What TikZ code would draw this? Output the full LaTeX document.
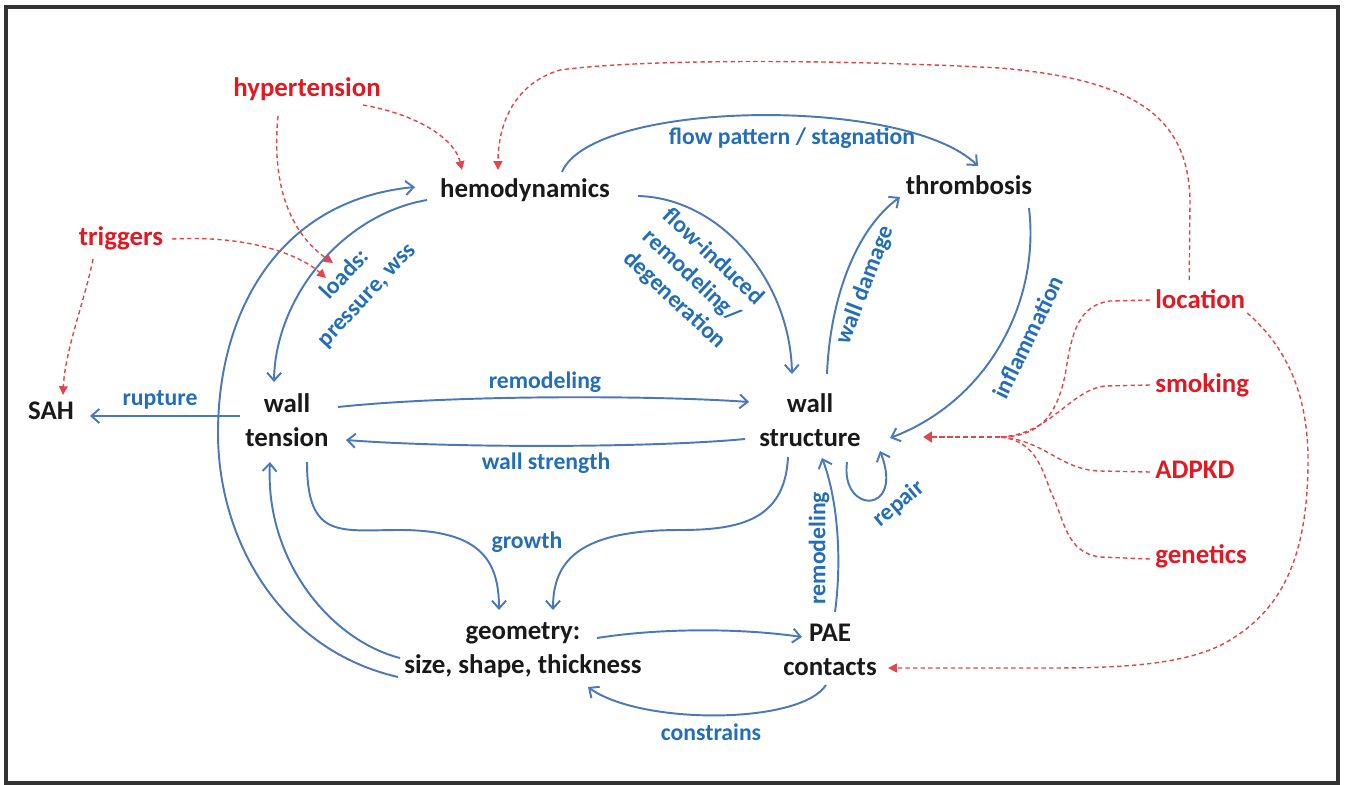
\documentclass[tikz,border=0pt]{standalone}
\usepackage{fontspec}
\setmainfont{Carlito}
\usetikzlibrary{arrows.meta}
\definecolor{bline}{RGB}{74,120,185}
\definecolor{btext}{RGB}{35,110,185}
\definecolor{rtext}{RGB}{225,25,35}
\definecolor{rline}{RGB}{225,70,75}
\definecolor{blk}{RGB}{25,25,25}
\definecolor{frame}{RGB}{50,50,50}
\begin{document}
\begin{tikzpicture}[x=0.02cm,y=-0.02cm,
  main/.style={font=\bfseries\fontsize{15.3}{19.3}\selectfont, text=blk, inner sep=0pt, align=center},
  risk/.style={font=\bfseries\fontsize{15.3}{19.3}\selectfont, text=rtext, inner sep=0pt},
  lbl/.style={font=\bfseries\fontsize{13.5}{17}\selectfont, text=btext, inner sep=0pt, align=center},
  link/.style={draw=bline, line width=1.1pt, -{Straight Barb[length=4.5pt,width=8pt]}},
  rlink/.style={draw=rline, line width=0.8pt, dash pattern=on 2.5pt off 1.8pt, -{Triangle[length=5pt,width=5pt]}},
  rpath/.style={draw=rline, line width=0.8pt, dash pattern=on 2.5pt off 1.8pt},
]
\useasboundingbox (0,0) rectangle (1347,785);
\draw[line width=1.8pt, draw=frame] (6,7) rectangle (1338,783);

% main nodes
\node[main] (hemo) at (525,190) {hemodynamics};
\node[main] (thromb) at (969,185) {thrombosis};
\node[main] (sah) at (51,411) {SAH};
\node[main] (wt) at (287,420) {wall\\tension};
\node[main] (ws) at (810,420) {wall\\structure};
\node[main] (geo) at (523,650) {geometry:\\size, shape, thickness};
\node[main] (pae) at (830,650) {PAE\\contacts};

% risk factors
\node[risk] (hyp) at (307,89) {hypertension};
\node[risk] (trig) at (121,238) {triggers};
\node[risk, anchor=west] (loc) at (1155,299) {location};
\node[risk, anchor=west] (smk) at (1155,385) {smoking};
\node[risk, anchor=west] (adpkd) at (1155,470) {ADPKD};
\node[risk, anchor=west] (gen) at (1155,556) {genetics};

% blue labels
\node[lbl] (lfps) at (792,138) {flow pattern / stagnation};
\node[lbl, rotate=47] (lloads) at (356,285) {loads:\\pressure, wss};
\node[lbl, rotate=-43, align=left, font=\bfseries\fontsize{13.5}{16.5}\selectfont] (lflow) at (694,279) {flow-induced\\remodeling/\\degeneration};
\node[lbl, rotate=69] (ldam) at (865,285) {wall damage};
\node[lbl, rotate=64] (linf) at (1028,337) {inflammation};
\node[lbl] (lrup) at (160,400) {rupture};
\node[lbl] (lrem) at (545,382) {remodeling};
\node[lbl] (lstr) at (546,463) {wall strength};
\node[lbl] (lgro) at (527,542) {growth};
\node[lbl, rotate=90] (lrem2) at (819,548) {remodeling};
\node[lbl, rotate=40] (lrep) at (899,504) {repair};
\node[lbl] (lcon) at (711,732) {constrains};

% blue connectors
\draw[link] ([shift={(37,-18)}]hemo.center) .. controls (592,100) and (905,95) .. ([shift={(9,-19)}]thromb.center);
\draw[link] ([shift={(113,6)}]hemo.center) .. controls (720,198) and (790,280) .. ([shift={(-18,-46)}]ws.center);
\draw[link] ([shift={(17,-46)}]ws.center) .. controls (830,300) and (855,230) .. ([shift={(-69,12)}]thromb.center);
\draw[link] ([shift={(60,23)}]thromb.center) .. controls (1040,300) and (990,400) .. ([shift={(80,18)}]ws.center);
\draw[link] ([shift={(51,-13)}]wt.center) .. controls (450,395) and (650,395) .. ([shift={(-61,-18)}]ws.center);
\draw[link] ([shift={(-65,19)}]ws.center) .. controls (650,448) and (450,448) .. ([shift={(59,20)}]wt.center);
\draw[link] ([shift={(-47,-4)}]wt.center) -- ([shift={(39,5)}]sah.center);
\draw[link] ([shift={(20,42)}]wt.center) .. controls (307,540) and (340,530) .. (400,530) .. controls (480,530) and (499,560) .. ([shift={(-24,-40)}]geo.center);
\draw[link] ([shift={(-22,37)}]ws.center) .. controls (785,520) and (740,530) .. (680,530) .. controls (580,530) and (553,560) .. ([shift={(30,-40)}]geo.center);
\draw[link] ([shift={(74,-12)}]geo.center) .. controls (660,628) and (740,628) .. ([shift={(-28,-13)}]pae.center);
\draw[link] ([shift={(-4,35)}]pae.center) .. controls (800,725) and (640,725) .. ([shift={(65,37)}]geo.center);
\draw[link] ([shift={(5,-38)}]pae.center) .. controls (842,560) and (838,500) .. ([shift={(12,38)}]ws.center);
\draw[link] ([shift={(37,42)}]ws.center) .. controls (840,515) and (905,515) .. ([shift={(70,31)}]ws.center);
\draw[link] ([shift={(-123,8)}]geo.center) .. controls (330,640) and (265,560) .. ([shift={(-17,42)}]wt.center);
\draw[link] ([shift={(-125,27)}]geo.center) .. controls (280,650) and (218,540) .. (218,433) .. controls (218,310) and (280,200) .. ([shift={(-110,-3)}]hemo.center);
\draw[link] ([shift={(-98,10)}]hemo.center) .. controls (340,215) and (275,300) .. ([shift={(-13,-38)}]wt.center);

% red dashed connectors
\coordinate (ld1) at (333,263);
\coordinate (ld2) at (326,278);
\coordinate (mrg) at (1000,437);
\draw[rlink] ([shift={(56,16)}]hyp.center) .. controls (420,115) and (455,140) .. ([shift={(-63,-20)}]hemo.center);
\draw[rlink] ([shift={(-29,27)}]hyp.center) .. controls (270,200) and (300,240) .. (ld1);
\draw[rlink] ([shift={(51,1)}]trig.center) .. controls (250,235) and (300,255) .. (ld2);
\draw[rlink] ([shift={(-28,21)}]trig.center) .. controls (85,300) and (65,350) .. ([shift={(12,-16)}]sah.center);
\draw[rlink] ([shift={(-11,-19)}]loc.center) -- (1190,200) .. controls (1188,120) and (1140,80) .. (1000,68) .. controls (850,60) and (650,58) .. (560,70) .. controls (510,85) and (498,130) .. ([shift={(-27,-20)}]hemo.center);
\draw[rlink] ([shift={(47,14)}]loc.center) .. controls (1290,350) and (1308,400) .. (1308,460) .. controls (1308,560) and (1280,610) .. (1230,640) .. controls (1190,665) and (1120,668) .. (1050,668) -- ([shift={(58,18)}]pae.center);
\draw[rpath] ([shift={(-5,1)}]loc.west) -- (1110,301) .. controls (1080,305) and (1072,330) .. (1066,370) .. controls (1058,415) and (1040,437) .. (mrg);
\draw[rpath] ([shift={(-5,0)}]smk.west) -- (1105,386) .. controls (1070,390) and (1050,435) .. (mrg);
\draw[rpath] ([shift={(-5,2)}]adpkd.west) -- (1100,471) .. controls (1060,470) and (1045,440) .. (mrg);
\draw[rpath] ([shift={(-5,3)}]gen.west) -- (1100,557) .. controls (1065,552) and (1065,520) .. (1050,490) .. controls (1040,460) and (1030,440) .. (mrg);
\draw[rline, line width=1.5pt, dash pattern=on 3pt off 1.5pt, -{Triangle[length=5pt,width=6pt]}] (mrg) -- ([shift={(113,17)}]ws.center);
\end{tikzpicture}
\end{document}
